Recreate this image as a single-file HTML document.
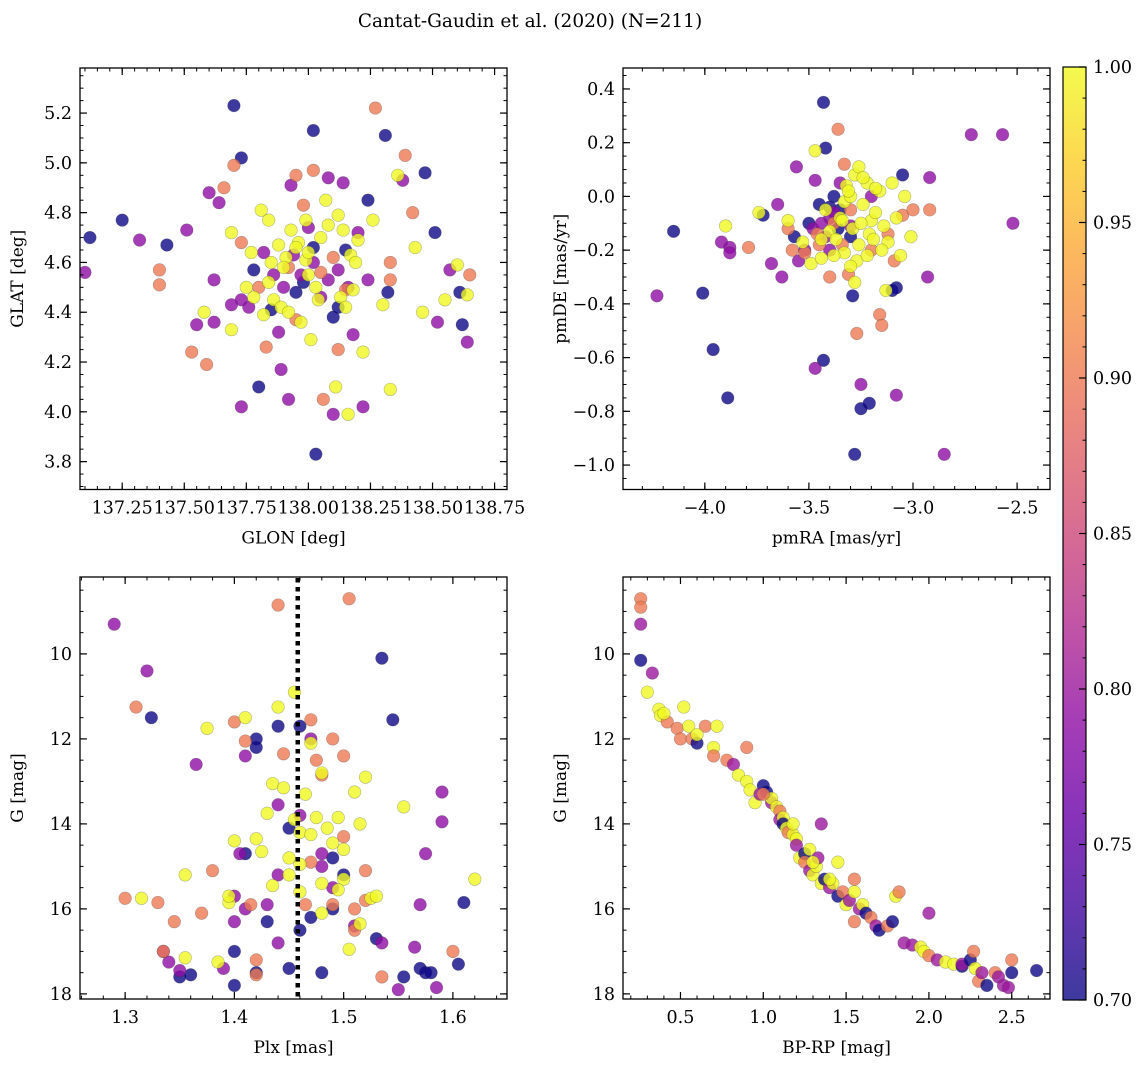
<!DOCTYPE html>
<html><head><meta charset="utf-8">
<style>
html,body{margin:0;padding:0;background:#fff;}
svg text{font-family:"DejaVu Serif","Liberation Serif",serif;fill:#000;}
</style></head>
<body>
<svg id="fig" width="1148" height="1067" viewBox="0 0 1148 1067" xmlns="http://www.w3.org/2000/svg">
<text x="530" y="27" font-size="18.5" text-anchor="middle">Cantat-Gaudin et al. (2020) (N=211)</text>
</svg>
<script>
// ---- data ----
const glonGlat = [
[137.12,4.70,0.7],[137.25,4.77,0.7],[137.43,4.67,0.7],[137.70,5.23,0.7],[137.73,5.02,0.7],[138.02,5.13,0.7],[138.31,5.11,0.7],[138.47,4.96,0.7],[137.80,4.10,0.7],[138.03,3.83,0.7],[138.51,4.72,0.7],[138.61,4.48,0.7],[138.62,4.35,0.7],[138.24,4.85,0.7],[138.15,4.65,0.7],[138.10,4.38,0.7],[137.78,4.57,0.7],[137.95,4.48,0.7],[138.02,4.66,0.7],[138.32,4.48,0.7],[137.85,4.41,0.7],[138.12,4.42,0.7],[137.98,4.52,0.7],
[137.10,4.56,0.79],[137.32,4.69,0.79],[137.51,4.73,0.79],[137.60,4.88,0.79],[137.64,4.84,0.79],[137.62,4.53,0.79],[137.62,4.36,0.79],[137.55,4.35,0.79],[137.73,4.45,0.79],[137.69,4.43,0.79],[137.76,4.42,0.79],[137.88,4.32,0.79],[137.93,4.91,0.79],[138.00,4.74,0.79],[138.08,4.94,0.79],[138.14,4.92,0.79],[138.22,4.02,0.79],[138.10,3.99,0.79],[137.92,4.05,0.79],[137.73,4.02,0.79],[137.89,4.17,0.79],[138.38,4.93,0.79],[138.57,4.57,0.79],[138.64,4.28,0.79],[138.52,4.36,0.79],[138.24,4.53,0.79],[138.18,4.31,0.79],[137.82,4.64,0.79],[138.05,4.46,0.79],[137.97,4.55,0.79],[137.90,4.50,0.79],[138.12,4.57,0.79],[138.20,4.72,0.79],[138.08,4.53,0.79],[137.86,4.55,0.79],[138.02,4.60,0.79],[138.16,4.50,0.79],[137.94,4.63,0.79],
[137.40,4.57,0.9],[137.40,4.51,0.9],[137.53,4.24,0.9],[137.59,4.19,0.9],[137.66,4.90,0.9],[137.70,4.99,0.9],[137.73,4.68,0.9],[137.83,4.26,0.9],[137.95,4.95,0.9],[138.02,4.97,0.9],[138.06,4.05,0.9],[138.12,4.25,0.9],[138.27,5.22,0.9],[138.33,4.53,0.9],[138.42,4.80,0.9],[138.39,5.03,0.9],[138.65,4.55,0.9],[138.33,4.60,0.9],[137.98,4.83,0.9],[137.80,4.50,0.9],[138.15,4.49,0.9],[138.10,4.62,0.9],[137.95,4.37,0.9],[138.05,4.56,0.9],[137.92,4.58,0.9],
[137.58,4.40,1],[137.69,4.33,1],[137.69,4.72,1],[137.81,4.81,1],[137.84,4.77,1],[137.77,4.64,1],[137.85,4.60,1],[137.88,4.67,1],[137.91,4.62,1],[137.93,4.73,1],[137.96,4.68,1],[137.99,4.77,1],[138.05,4.70,1],[138.08,4.75,1],[138.12,4.79,1],[138.14,4.73,1],[138.17,4.63,1],[138.19,4.60,1],[138.20,4.69,1],[137.78,4.46,1],[137.82,4.39,1],[137.86,4.45,1],[137.89,4.42,1],[137.92,4.40,1],[137.97,4.36,1],[138.01,4.29,1],[138.04,4.45,1],[138.13,4.46,1],[138.15,4.42,1],[138.18,4.49,1],[138.22,4.24,1],[138.30,4.43,1],[138.36,4.95,1],[138.43,4.66,1],[138.46,4.40,1],[138.55,4.45,1],[138.60,4.59,1],[138.64,4.47,1],[138.33,4.09,1],[138.16,3.99,1],[138.11,4.10,1],[137.99,4.61,1],[138.00,4.55,1],[137.75,4.50,1],[138.26,4.77,1],[138.07,4.85,1],[137.95,4.66,1],[138.03,4.50,1],[137.90,4.58,1],[138.00,4.64,1],[137.84,4.52,1]
];
const pmPoints = [
[-4.15,-0.13,0.7],[-4.01,-0.36,0.7],[-3.96,-0.57,0.7],[-3.89,-0.75,0.7],[-3.72,-0.07,0.7],[-3.57,-0.15,0.7],[-3.43,0.35,0.7],[-3.42,0.18,0.7],[-3.43,-0.61,0.7],[-3.29,-0.37,0.7],[-3.21,-0.77,0.7],[-3.25,-0.79,0.7],[-3.28,-0.96,0.7],[-3.08,-0.34,0.7],[-3.05,0.08,0.7],[-3.10,-0.35,0.7],[-3.45,-0.03,0.7],[-3.38,0.00,0.7],[-3.50,-0.10,0.7],[-3.30,-0.15,0.7],[-3.35,-0.05,0.7],[-3.40,-0.04,0.7],[-3.36,-0.12,0.7],
[-4.23,-0.37,0.79],[-3.92,-0.17,0.79],[-3.88,-0.19,0.79],[-3.88,-0.21,0.79],[-3.68,-0.25,0.79],[-3.65,-0.03,0.79],[-3.63,-0.30,0.79],[-3.56,0.11,0.79],[-3.52,-0.20,0.79],[-3.47,0.06,0.79],[-3.40,-0.20,0.79],[-3.30,-0.11,0.79],[-3.25,-0.70,0.79],[-2.92,0.07,0.79],[-2.93,-0.30,0.79],[-2.72,0.23,0.79],[-2.57,0.23,0.79],[-2.52,-0.10,0.79],[-2.85,-0.96,0.79],[-3.08,-0.74,0.79],[-3.47,-0.64,0.79],[-3.55,-0.24,0.79],[-3.42,-0.15,0.79],[-3.35,0.05,0.79],[-3.20,0.00,0.79],[-3.40,-0.08,0.79],[-3.48,-0.12,0.79],[-3.44,-0.10,0.79],[-3.38,-0.06,0.79],
[-3.79,-0.19,0.9],[-3.60,-0.12,0.9],[-3.58,-0.20,0.9],[-3.52,-0.21,0.9],[-3.45,-0.18,0.9],[-3.38,-0.10,0.9],[-3.36,0.25,0.9],[-3.33,0.12,0.9],[-3.31,-0.29,0.9],[-3.27,-0.51,0.9],[-3.16,-0.44,0.9],[-3.15,-0.48,0.9],[-3.12,-0.14,0.9],[-3.09,-0.24,0.9],[-3.05,-0.07,0.9],[-3.00,-0.05,0.9],[-2.92,-0.05,0.9],[-3.20,-0.20,0.9],[-3.40,-0.30,0.9],[-3.30,-0.05,0.9],[-3.46,-0.14,0.9],[-3.34,-0.18,0.9],
[-3.90,-0.11,1],[-3.74,-0.06,1],[-3.47,0.17,1],[-3.60,-0.09,1],[-3.53,-0.17,1],[-3.49,-0.25,1],[-3.44,-0.23,1],[-3.40,-0.13,1],[-3.37,-0.16,1],[-3.35,-0.08,1],[-3.33,-0.02,1],[-3.32,0.04,1],[-3.30,0.00,1],[-3.28,0.08,1],[-3.26,0.11,1],[-3.24,-0.03,1],[-3.22,0.05,1],[-3.20,-0.09,1],[-3.18,-0.06,1],[-3.16,0.02,1],[-3.14,-0.11,1],[-3.12,-0.17,1],[-3.10,0.05,1],[-3.08,-0.08,1],[-3.06,-0.22,1],[-3.04,0.00,1],[-3.01,-0.15,1],[-3.13,-0.35,1],[-3.27,-0.24,1],[-3.28,-0.32,1],[-3.30,-0.26,1],[-3.33,-0.21,1],[-3.26,-0.18,1],[-3.21,-0.14,1],[-3.15,-0.20,1],[-3.44,-0.16,1],[-3.38,-0.22,1],[-3.42,-0.05,1],[-3.18,0.03,1],[-3.24,0.07,1],[-3.29,-0.12,1],[-3.22,-0.22,1],[-3.31,0.02,1],[-3.25,-0.10,1],[-3.19,-0.16,1],[-3.34,-0.09,1]
];
const plxG = [
[1.324,11.5,0.7],[1.35,17.6,0.7],[1.36,17.55,0.7],[1.40,17.0,0.7],[1.40,17.8,0.7],[1.41,14.7,0.7],[1.42,17.5,0.7],[1.42,12.0,0.7],[1.42,12.2,0.7],[1.44,11.7,0.7],[1.45,14.1,0.7],[1.45,17.4,0.7],[1.46,11.7,0.7],[1.47,16.2,0.7],[1.48,17.5,0.7],[1.49,16.0,0.7],[1.49,14.8,0.7],[1.535,10.1,0.7],[1.545,11.55,0.7],[1.53,16.7,0.7],[1.555,17.6,0.7],[1.57,17.4,0.7],[1.575,17.5,0.7],[1.58,17.5,0.7],[1.605,17.3,0.7],[1.61,15.85,0.7],[1.46,16.5,0.7],[1.50,15.2,0.7],[1.43,16.3,0.7],
[1.29,9.3,0.79],[1.32,10.4,0.79],[1.335,17.0,0.79],[1.34,17.25,0.79],[1.35,17.45,0.79],[1.365,12.6,0.79],[1.39,17.4,0.79],[1.405,14.7,0.79],[1.40,16.3,0.79],[1.40,15.7,0.79],[1.41,12.4,0.79],[1.43,15.9,0.79],[1.44,15.2,0.79],[1.44,13.55,0.79],[1.47,12.0,0.79],[1.48,14.7,0.79],[1.49,15.5,0.79],[1.51,16.4,0.79],[1.535,16.8,0.79],[1.55,17.9,0.79],[1.565,16.9,0.79],[1.57,15.9,0.79],[1.575,14.7,0.79],[1.585,17.85,0.79],[1.59,13.25,0.79],[1.59,13.95,0.79],[1.48,15.0,0.79],[1.41,16.0,0.79],[1.46,13.8,0.79],[1.44,16.8,0.79],
[1.31,11.25,0.9],[1.30,15.75,0.9],[1.33,15.85,0.9],[1.335,17.0,0.9],[1.345,16.3,0.9],[1.37,16.1,0.9],[1.38,15.1,0.9],[1.40,11.6,0.9],[1.41,12.05,0.9],[1.415,15.9,0.9],[1.42,17.2,0.9],[1.42,17.55,0.9],[1.44,8.85,0.9],[1.445,12.35,0.9],[1.47,11.55,0.9],[1.475,12.5,0.9],[1.48,12.85,0.9],[1.49,12.0,0.9],[1.50,12.4,0.9],[1.505,8.7,0.9],[1.51,16.0,0.9],[1.52,15.8,0.9],[1.535,17.6,0.9],[1.60,17.0,0.9],[1.465,15.9,0.9],[1.47,14.9,0.9],[1.50,14.3,0.9],[1.51,16.5,0.9],[1.52,15.1,0.9],[1.49,15.9,0.9],
[1.315,15.75,1],[1.355,17.15,1],[1.355,15.2,1],[1.375,11.75,1],[1.385,17.25,1],[1.395,15.85,1],[1.41,11.5,1],[1.42,14.35,1],[1.425,14.65,1],[1.43,13.75,1],[1.435,13.05,1],[1.435,15.45,1],[1.44,11.25,1],[1.445,13.15,1],[1.45,14.8,1],[1.45,15.2,1],[1.455,10.9,1],[1.455,13.9,1],[1.46,14.2,1],[1.46,14.95,1],[1.465,13.3,1],[1.47,12.1,1],[1.47,14.25,1],[1.475,13.85,1],[1.48,12.8,1],[1.48,15.4,1],[1.485,14.1,1],[1.49,14.45,1],[1.495,13.85,1],[1.50,14.6,1],[1.50,15.3,1],[1.505,16.95,1],[1.51,13.25,1],[1.515,14.0,1],[1.515,16.35,1],[1.52,12.9,1],[1.525,15.75,1],[1.53,15.7,1],[1.555,13.6,1],[1.62,15.3,1],[1.395,15.7,1],[1.40,14.4,1],[1.46,15.6,1],[1.48,16.1,1],[1.495,15.55,1]
];
const plxMedian = 1.458;
const cmdPoints = [
[0.26,8.7,0.9],[0.26,8.9,0.9],[0.26,9.3,0.8],[0.26,10.15,0.7],[0.33,10.45,0.8],[0.3,10.9,1],[0.37,11.3,1],[0.38,11.45,1],[0.42,11.6,0.9],[0.48,11.75,0.9],[0.52,11.25,1],[0.55,11.7,1],[0.5,12.0,0.9],[0.57,12.0,0.9],[0.6,12.1,0.7],[0.65,11.7,0.9],[0.7,12.2,1],[0.72,11.7,1],[0.7,12.4,0.9],[0.78,12.5,0.9],[0.82,12.6,0.8],[0.85,12.85,1],[0.9,12.2,0.9],[0.9,13.0,1],[0.92,13.2,1],[0.95,13.5,1],[1.0,13.1,0.7],[1.02,13.25,0.7],[0.98,13.3,0.8],[1.05,13.5,0.8],[1.05,13.4,1],[1.08,13.6,1],[1.1,13.7,0.9],[1.1,13.9,0.8],[1.12,13.85,1],[1.12,14.0,0.7],[1.14,14.1,1],[1.15,14.2,0.9],[1.18,14.25,1],[1.2,14.35,1],[1.2,14.5,0.8],[1.22,14.8,1],[1.25,14.7,0.7],[1.25,14.9,0.9],[1.28,14.6,1],[1.28,15.1,0.8],[1.3,15.2,1],[1.32,15.0,1],[1.33,14.8,0.8],[1.35,14.0,0.8],[1.35,15.4,1],[1.37,15.3,0.7],[1.4,15.5,0.8],[1.42,15.4,1],[1.45,14.9,1],[1.45,15.7,0.7],[1.48,15.6,0.9],[1.5,15.9,1],[1.52,15.8,0.8],[1.55,15.3,0.9],[1.55,15.6,1],[1.55,16.3,0.9],[1.58,16.0,0.8],[1.6,15.9,1],[1.62,16.1,0.7],[1.65,16.2,0.9],[1.68,16.4,0.8],[1.7,16.5,0.7],[1.75,16.4,0.9],[1.78,16.3,0.7],[1.8,15.7,1],[1.82,15.6,0.9],[1.85,16.8,0.8],[1.9,16.85,0.8],[1.95,16.9,1],[1.97,17.0,1],[2.0,16.1,0.8],[2.0,17.1,0.9],[2.05,17.2,0.8],[2.1,17.25,1],[2.15,17.3,1],[2.2,17.35,0.7],[2.2,17.3,0.8],[2.25,17.2,0.7],[2.27,17.0,0.9],[2.28,17.4,1],[2.3,17.7,0.9],[2.32,17.5,0.8],[2.35,17.8,0.7],[2.4,17.5,0.9],[2.42,17.6,0.8],[2.45,17.8,0.8],[2.48,17.85,0.8],[2.5,17.2,0.9],[2.5,17.5,0.7],[2.65,17.45,0.7],[1.18,14.0,1],[1.3,14.9,1],[1.0,13.3,0.9],[1.4,15.3,1],[0.6,11.9,1],[0.4,11.4,1]
];
const ticksGlon = [137.25,137.50,137.75,138.00,138.25,138.50,138.75];
const ticksGlat = [3.8,4.0,4.2,4.4,4.6,4.8,5.0,5.2];
const ticksPmra = [-4.0,-3.5,-3.0,-2.5];
const ticksPmde = [-1.0,-0.8,-0.6,-0.4,-0.2,0.0,0.2,0.4];
const ticksPlx = [1.3,1.4,1.5,1.6];
const ticksG = [10,12,14,16,18];
const ticksBprp = [0.5,1.0,1.5,2.0,2.5];
const ticksCbar = [0.70,0.75,0.80,0.85,0.90,0.95,1.00];

// ---- helpers ----
const NS="http://www.w3.org/2000/svg";
const svg=document.getElementById('fig');
const TF=17.5, LF=17;
function mk(tag,attrs,parent){const e=document.createElementNS(NS,tag);for(const k in attrs)e.setAttribute(k,attrs[k]);(parent||svg).appendChild(e);return e;}
const stops=[[13,8,135],[65,4,157],[106,0,168],[143,13,164],[177,42,144],[204,71,120],[225,100,98],[242,132,75],[252,166,54],[252,206,37],[240,249,33]];
function plasma(t){t=Math.max(0,Math.min(1,t));const f=t*10,i=Math.min(9,Math.floor(f)),u=f-i;const a=stops[i],b=stops[i+1];return 'rgb('+a.map((v,k)=>Math.round(v+(b[k]-v)*u)).join(',')+')';}
function pc(p){return plasma((p-0.7)/0.3);}
function fmt(v,d){return (v<0?'\u2212':'')+Math.abs(v).toFixed(d);}

function panel(name,box,xd,yd,xt,yt,xdec,ydec,xminor,yminor,xlabel,ylabel,pts){
  const [L,T,R,B]=box;
  const sx=v=>L+(v-xd[0])/(xd[1]-xd[0])*(R-L);
  const sy=v=>T+(yd[1]-v)/(yd[1]-yd[0])*(B-T);
  const g=mk('g',{});
  
  
  const cid='clip-'+name;
  const cp=mk('clipPath',{id:cid},g);mk('rect',{x:L,y:T,width:R-L,height:B-T},cp);
  const pg=mk('g',{'clip-path':'url(#'+cid+')'},g);
  pts.forEach(p=>{
    const c=mk('circle',{cx:sx(p[0]),cy:sy(p[1]),r:6.3,fill:pc(p[2]),'fill-opacity':0.8,stroke:'#333','stroke-opacity':0.35,'stroke-width':0.6},pg);
    
    
  });
  const lo=Math.min(xd[0],xd[1]),hi=Math.max(xd[0],xd[1]);
  for(let v=Math.ceil(lo/xminor)*xminor;v<=hi;v+=xminor){const x=sx(v);mk('line',{x1:x,x2:x,y1:B,y2:B-3.5,stroke:'#000','stroke-width':1},g);mk('line',{x1:x,x2:x,y1:T,y2:T+3.5,stroke:'#000','stroke-width':1},g);}
  const ylo=Math.min(yd[0],yd[1]),yhi=Math.max(yd[0],yd[1]);
  for(let v=Math.ceil(ylo/yminor)*yminor;v<=yhi;v+=yminor){const y=sy(v);mk('line',{x1:L,x2:L+3.5,y1:y,y2:y,stroke:'#000','stroke-width':1},g);mk('line',{x1:R,x2:R-3.5,y1:y,y2:y,stroke:'#000','stroke-width':1},g);}
  xt.forEach(v=>{const x=sx(v);mk('line',{x1:x,x2:x,y1:B,y2:B-7,stroke:'#000','stroke-width':1.2},g);mk('line',{x1:x,x2:x,y1:T,y2:T+7,stroke:'#000','stroke-width':1.2},g);
    const t=mk('text',{x:x,y:B+24,'font-size':TF,'text-anchor':'middle'},g);t.textContent=fmt(v,xdec);
    });
  yt.forEach(v=>{const y=sy(v);mk('line',{x1:L,x2:L+7,y1:y,y2:y,stroke:'#000','stroke-width':1.2},g);mk('line',{x1:R,x2:R-7,y1:y,y2:y,stroke:'#000','stroke-width':1.2},g);
    const t=mk('text',{x:L-8,y:y+6,'font-size':TF,'text-anchor':'end'},g);t.textContent=fmt(v,ydec);
    });
  mk('rect',{x:L,y:T,width:R-L,height:B-T,fill:'none',stroke:'#000','stroke-width':1.3},g);
  const xl=mk('text',{x:(L+R)/2,y:B+54,'font-size':LF,'text-anchor':'middle'},g);xl.textContent=xlabel;
  
  const yx=L-57,yy=(T+B)/2;
  const yl=mk('text',{x:yx,y:yy,'font-size':LF,'text-anchor':'middle',transform:'rotate(-90 '+yx+' '+yy+')'},g);yl.textContent=ylabel;
  
  return {sx,sy,g};
}
panel('glon-glat-panel',[80,68,507,489.5],[137.08,138.80],[3.688,5.381],ticksGlon,ticksGlat,2,1,0.05,0.05,'GLON [deg]','GLAT [deg]',glonGlat);
panel('pm-panel',[623,68,1050,489.5],[-4.393,-2.342],[-1.091,0.478],ticksPmra,ticksPmde,1,1,0.1,0.05,'pmRA [mas/yr]','pmDE [mas/yr]',pmPoints);
const bl=panel('plx-g-panel',[80,577,507,999],[1.2587,1.6495],[18.12,8.19],ticksPlx,ticksG,1,0,0.02,0.5,'Plx [mas]','G [mag]',plxG);
panel('cmd-panel',[623,577,1050,999],[0.153,2.731],[18.12,8.19],ticksBprp,ticksG,1,0,0.1,0.5,'BP-RP [mag]','G [mag]',cmdPoints);
const mx=bl.sx(plxMedian);
const ml=mk('line',{x1:mx,x2:mx,y1:578,y2:998,stroke:'#000','stroke-width':4.5,'stroke-dasharray':'4.5 4.5'});



// colorbar
const CL=1063,CR=1086,CT=67,CB=1000;
const defs=mk('defs',{});
const lg=mk('linearGradient',{id:'cbg',x1:0,y1:1,x2:0,y2:0},defs);
for(let i=0;i<=20;i++){mk('stop',{offset:(i/20),'stop-color':plasma(i/20),'stop-opacity':0.8},lg);}
const cb=mk('rect',{x:CL,y:CT,width:CR-CL,height:CB-CT,fill:'url(#cbg)',stroke:'#000','stroke-width':1.2});


const cy=v=>CB-(v-0.7)/0.3*(CB-CT);
for(let v=0.70;v<=1.0001;v+=0.01){const y=cy(v);mk('line',{x1:CR,x2:CR-3.5,y1:y,y2:y,stroke:'#000','stroke-width':1});}
ticksCbar.forEach(v=>{const y=cy(v);mk('line',{x1:CR,x2:CR-7,y1:y,y2:y,stroke:'#000','stroke-width':1.2});
  const t=mk('text',{x:CR+7,y:y+6,'font-size':TF});t.textContent=v.toFixed(2);
  });
</script>
</body></html>
